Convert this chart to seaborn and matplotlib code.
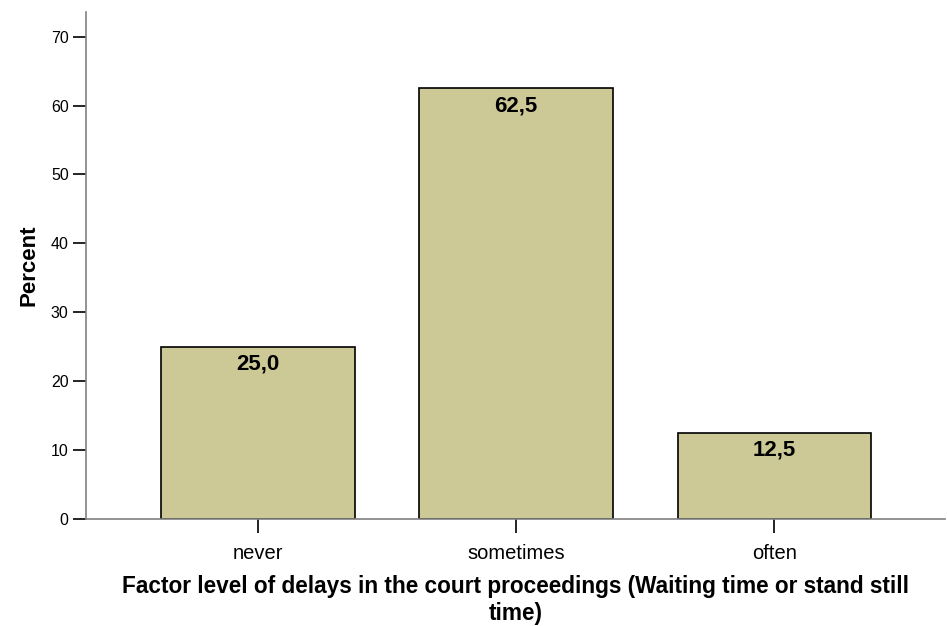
import matplotlib
matplotlib.use("Agg")
import matplotlib.pyplot as plt
import seaborn as sns
import pandas as pd

categories = ["never", "sometimes", "often"]
percents = [25.0, 62.5, 12.5]
y_ticks = [0, 10, 20, 30, 40, 50, 60, 70]

sns.set_style("ticks")
plt.rcParams["font.family"] = ["Liberation Sans", "DejaVu Sans"]
plt.rcParams["text.color"] = "black"
plt.rcParams["axes.labelcolor"] = "black"
plt.rcParams["xtick.color"] = "black"
plt.rcParams["ytick.color"] = "black"

df = pd.DataFrame({"level": categories, "percent": percents})

fig = plt.figure(figsize=(9.47, 6.26), dpi=100)
ax = fig.add_axes([0.0908, 0.171, 0.907, 0.81])

sns.barplot(data=df, x="level", y="percent", color="#CCC996", saturation=1,
            width=0.75, edgecolor="black", linewidth=1.2, ax=ax)

# value labels inside the bars, comma decimal
for patch, val in zip(ax.patches, percents):
    x = patch.get_x() + patch.get_width() / 2
    ax.annotate(f"{val:.1f}".replace(".", ","), (x, val), xytext=(0, -5),
                textcoords="offset points", ha="center", va="top",
                fontsize=16, fontweight="bold", color="black")

ax.set_xlim(-0.665, 2.66)
ax.set_ylim(0, 73.6)
ax.set_yticks(y_ticks)
ax.tick_params(axis="y", length=9.5, width=1.2, labelsize=11.5, pad=3)
ax.tick_params(axis="x", length=10, width=1.2, labelsize=14.5, pad=8)

for side in ["top", "right"]:
    ax.spines[side].set_visible(False)
for side in ["left", "bottom"]:
    ax.spines[side].set_color("#808080")
    ax.spines[side].set_linewidth(1.2)

ax.set_ylabel("Percent", fontsize=16, fontweight="bold", labelpad=8)
ax.set_xlabel("Factor level of delays in the court proceedings (Waiting time or stand still\ntime)",
              fontsize=16.3, fontweight="bold", labelpad=9, linespacing=1.22)

fig.savefig("out.png", dpi=100)
